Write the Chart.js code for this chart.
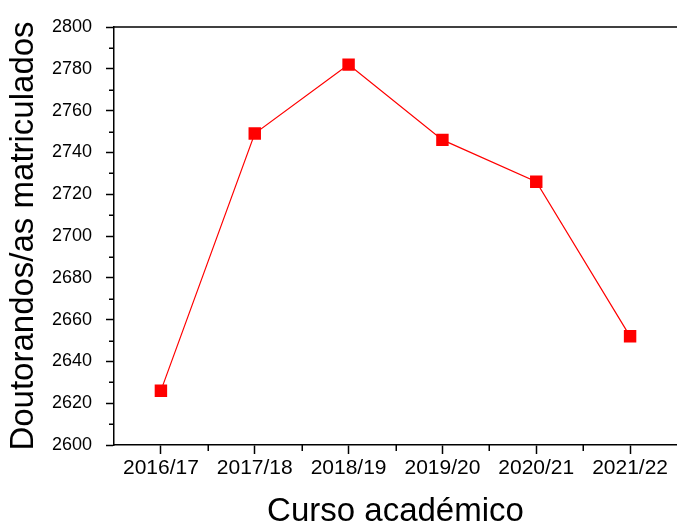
<!DOCTYPE html>
<html><head><meta charset="utf-8">
<script src="https://cdn.jsdelivr.net/npm/chart.js@4"></script>
<style>html,body{margin:0;padding:0;background:#fff}</style>
</head><body>
<canvas id="c" width="677" height="525"></canvas>
<script>
const categories = ['2016/17', '2017/18', '2018/19', '2019/20', '2020/21', '2021/22'];
const values = [2626, 2749, 2782, 2746, 2726, 2652];
const yMin = 2600;
const yMax = 2800;
const yStep = 20;
const xTitle = 'Curso académico';
const yTitle = 'Doutorandos/as matriculados';

const FONT = "'Liberation Sans', Arial, Helvetica, sans-serif";

const frameAndMinor = {
  id: 'frameAndMinor',
  afterDraw(chart) {
    const {ctx, chartArea: a, scales: {x, y}} = chart;
    ctx.save();
    ctx.strokeStyle = '#000';
    ctx.lineWidth = 1.5;
    ctx.beginPath();
    ctx.moveTo(a.left, a.top);
    ctx.lineTo(a.right + 5, a.top);
    ctx.stroke();
    ctx.beginPath();
    for (let v = yMin + yStep / 2; v < yMax; v += yStep) {
      const p = Math.round(y.getPixelForValue(v)) + 0.25;
      ctx.moveTo(a.left - 5, p);
      ctx.lineTo(a.left, p);
    }
    for (let i = 0; i < categories.length - 1; i++) {
      const p = Math.round(x.getPixelForValue(i + 0.5)) + 0.25;
      ctx.moveTo(p, a.bottom);
      ctx.lineTo(p, a.bottom + 6);
    }
    ctx.stroke();
    ctx.restore();
  }
};

new Chart(document.getElementById('c'), {
  type: 'line',
  data: {
    labels: categories,
    datasets: [{
      data: values,
      borderColor: '#ff0000',
      borderWidth: 1.2,
      pointStyle: 'rect',
      pointRadius: 8.8,
      pointBorderWidth: 0,
      pointBackgroundColor: '#ff0000',
      tension: 0
    }]
  },
  options: {
    responsive: false,
    animation: false,
    devicePixelRatio: 1,
    layout: { autoPadding: false, padding: { top: 27, left: 0, right: -2, bottom: 0 } },
    plugins: { legend: { display: false }, tooltip: { enabled: false } },
    scales: {
      x: {
        type: 'category',
        offset: true,
        border: { display: true, color: '#000', width: 1.5 },
        grid: { drawOnChartArea: false, tickLength: 9, tickColor: '#000', tickWidth: 1.5, offset: false },
        ticks: { color: '#000', font: { family: FONT, size: 21 }, padding: 2, maxRotation: 0, autoSkip: false },
        title: { display: true, text: xTitle, color: '#000', font: { family: FONT, size: 33, lineHeight: 0.82 }, padding: 0 },
        afterFit(s) { s.height = 80; s.paddingLeft = 0; s.paddingRight = 0; }
      },
      y: {
        min: yMin,
        max: yMax,
        border: { display: true, color: '#000', width: 1.5 },
        grid: { drawOnChartArea: false, tickLength: 8, tickColor: '#000', tickWidth: 1.5 },
        ticks: { stepSize: yStep, color: '#000', font: { family: FONT, size: 18 }, padding: 14,
                 callback: (v) => String(v) },
        title: { display: true, text: yTitle, color: '#000', font: { family: FONT, size: 33, lineHeight: 1 }, padding: { top: 7, bottom: 0 } },
        afterFit(s) { s.width = 114; }
      }
    }
  },
  plugins: [frameAndMinor]
});
</script>
</body></html>
